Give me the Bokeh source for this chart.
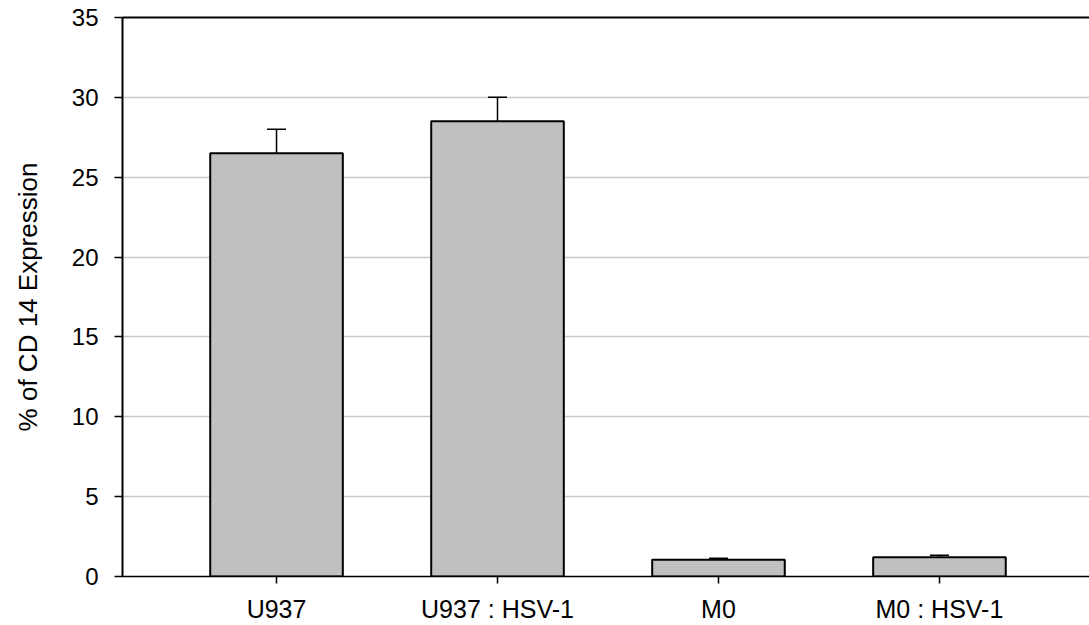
from bokeh.plotting import figure
from bokeh.models import ColumnDataSource, FixedTicker, LinearAxis, Range1d, Whisker
from bokeh.embed import file_html
from bokeh.resources import INLINE

# CD14 expression per cell group (mean and upper error)
groups = ["U937", "U937 : HSV-1", "M0", "M0 : HSV-1"]
cd14_mean = [26.5, 28.5, 1.05, 1.2]
cd14_err = [1.5, 1.5, 0.1, 0.13]
y_ticks = [0, 5, 10, 15, 20, 25, 30, 35]

pos = list(range(len(groups)))
src = ColumnDataSource(dict(
    x=pos,
    top=cd14_mean,
    upper=[m + e for m, e in zip(cd14_mean, cd14_err)],
))

FONT = "Liberation Sans"

p = figure(width=1089, height=625, output_backend="svg", toolbar_location=None,
           x_range=Range1d(-0.697, 3.679), y_range=Range1d(0, 35),
           min_border_left=122, min_border_right=0, min_border_top=17,
           min_border_bottom=48)
p.outline_line_color = None
p.background_fill_color = "white"

# upper error bars with caps, drawn before the bars
err = Whisker(source=src, base="x", upper="upper", lower="top",
              line_color="black", line_width=1.5, lower_head=None)
err.upper_head.size = 19
err.upper_head.line_width = 1.5
p.add_layout(err)

p.vbar(x="x", top="top", width=0.6, bottom=0, source=src,
       fill_color="#c0c0c0", line_color="black", line_width=2)

# axes
p.xaxis.ticker = FixedTicker(ticks=pos)
p.xaxis.major_label_overrides = {i: g for i, g in enumerate(groups)}
p.xaxis.minor_tick_line_color = None
p.xaxis.major_tick_in = 0
p.xaxis.major_tick_out = 7
p.xaxis.major_label_standoff = 11
p.xaxis.axis_line_width = 1.5

p.yaxis.ticker = FixedTicker(ticks=y_ticks)
p.yaxis.minor_tick_line_color = None
p.yaxis.major_tick_in = 0
p.yaxis.major_tick_out = 8
p.yaxis.major_label_standoff = 16
p.yaxis.axis_line_width = 2
p.yaxis.axis_label = "% of CD 14 Expression"
p.yaxis.axis_label_standoff = 26

for ax in (p.xaxis[0], p.yaxis[0]):
    ax.major_label_text_font = FONT
    ax.major_label_text_font_size = "25px"
    ax.major_label_text_color = "black"
    ax.axis_line_color = "black"
    ax.major_tick_line_color = "black"
    ax.major_tick_line_width = 1.5
    ax.axis_label_text_font = FONT
    ax.axis_label_text_font_size = "26px"
    ax.axis_label_text_font_style = "normal"
    ax.axis_label_text_color = "black"

p.yaxis.major_label_text_font_size = "24px"

# frame line along the top
top_ax = LinearAxis(axis_line_color="black", axis_line_width=2,
                    major_tick_line_color=None, minor_tick_line_color=None,
                    major_label_text_font_size="0px")
top_ax.ticker = FixedTicker(ticks=[])
p.add_layout(top_ax, "above")

p.xgrid.grid_line_color = None
p.ygrid.ticker = FixedTicker(ticks=y_ticks[1:-1])
p.ygrid.grid_line_color = "#c8c8c8"
p.ygrid.grid_line_width = 1.5

open("out.html", "w").write(file_html(p, INLINE))
